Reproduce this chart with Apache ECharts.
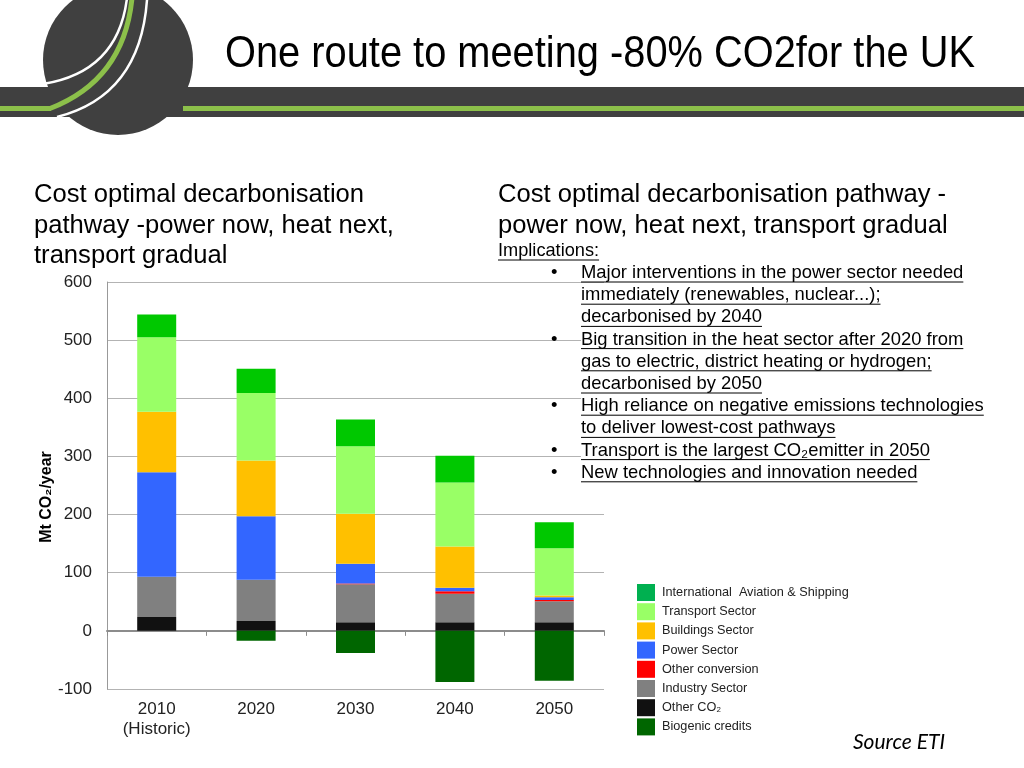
<!DOCTYPE html>
<html><head><meta charset="utf-8">
<script src="https://cdn.jsdelivr.net/npm/echarts@6/dist/echarts.min.js"></script>
<style>html,body{margin:0;padding:0;background:#fff}#c{width:1024px;height:768px}</style>
</head><body><div id="c"></div>
<script>
// ---- data ----
const categories = ['2010\n(Historic)', '2020', '2030', '2040', '2050'];
const otherCO2 = [24, 17, 15, 15, 15];
const industry = [69, 71, 65, 49, 36];
const otherConversion = [0, 0, 1.5, 4, 2];
const power = [180, 109, 34, 6, 5];
const buildings = [104, 96, 86, 71, 3];
const transport = [128, 116, 116, 110, 81];
const aviation = [39, 42, 46, 46, 45];
const biogenic = [0, -17, -38, -88, -86];
const yTicks = { min: -100, max: 600, interval: 100 };
const legendNames = ['International  Aviation & Shipping', 'Transport Sector', 'Buildings Sector', 'Power Sector', 'Other conversion', 'Industry Sector', 'Other CO\u2082', 'Biogenic credits'];

const bullets = [
  ['\u2022', 'Major interventions in the power sector needed'],
  ['', 'immediately (renewables, nuclear...);'],
  ['', 'decarbonised by 2040'],
  ['\u2022', 'Big transition in the heat sector after 2020 from'],
  ['', 'gas to electric, district heating or hydrogen;'],
  ['', 'decarbonised by 2050'],
  ['\u2022', 'High reliance on negative emissions technologies'],
  ['', 'to deliver lowest-cost pathways'],
  ['\u2022', 'Transport is the largest CO\u2082emitter in 2050'],
  ['\u2022', 'New technologies and innovation needed']
];

const chart = echarts.init(document.getElementById('c'), null, { renderer: 'canvas' });
const mctx = document.createElement('canvas').getContext('2d');
function tw(t, f) { mctx.font = f; return mctx.measureText(t).width; }

const FF = '"Liberation Sans", Arial, sans-serif';
const graphics = [];
// header band & logo
graphics.push({ type: 'rect', shape: { x: 0, y: 87, width: 1024, height: 30 }, style: { fill: '#404040' } });
graphics.push({ type: 'rect', shape: { x: 183, y: 106, width: 841, height: 5 }, style: { fill: '#8cc04a' } });
graphics.push({ type: 'circle', shape: { cx: 118, cy: 60, r: 75 }, style: { fill: '#404040' } });
graphics.push({ type: 'line', shape: { x1: 0, y1: 108.5, x2: 51, y2: 108.5 }, style: { stroke: '#8cc04a', lineWidth: 5 } });
graphics.push({ type: 'bezierCurve', shape: { x1: 50, y1: 108.5, cpx1: 124, cpy1: 80, x2: 132, y2: -2 }, style: { fill: null, stroke: '#8cc04a', lineWidth: 5 } });
graphics.push({ type: 'bezierCurve', shape: { x1: 43, y1: 84, cpx1: 118, cpy1: 72, x2: 127, y2: -2 }, style: { fill: null, stroke: '#fff', lineWidth: 2.5 } });
graphics.push({ type: 'bezierCurve', shape: { x1: 57, y1: 117, cpx1: 140, cpy1: 96, x2: 147, y2: 0 }, style: { fill: null, stroke: '#fff', lineWidth: 2.5 } });
// title (condensed to the reference width)
const titleText = 'One route to meeting -80% CO2for the UK';
const titleFont = '44px "Liberation Sans", Arial, sans-serif';
const titleScale = 750 / tw(titleText, titleFont);
graphics.push({ type: 'text', x: 225, y: 55, scaleX: titleScale, style: { text: titleText, font: titleFont, fill: '#000', textVerticalAlign: 'middle' } });
// left text
const bigF = '25.6px ' + FF;
['Cost optimal decarbonisation', 'pathway -power now, heat next,', 'transport gradual'].forEach((t, i) => {
  graphics.push({ type: 'text', x: 34, y: 195 + i * 30.5, style: { text: t, font: bigF, fill: '#000', textVerticalAlign: 'middle' } });
});
['Cost optimal decarbonisation pathway -', 'power now, heat next, transport gradual'].forEach((t, i) => {
  graphics.push({ type: 'text', x: 498, y: 195 + i * 30.5, style: { text: t, font: bigF, fill: '#000', textVerticalAlign: 'middle' } });
});
// implications
const smallF = '18.4px ' + FF;
function underlined(t, x, y, font) {
  graphics.push({ type: 'text', z: 10, x: x, y: y, style: { text: t, font: font, fill: '#000', textVerticalAlign: 'middle', backgroundColor: '#fff' } });
  const w = tw(t, font);
  graphics.push({ type: 'line', z: 11, shape: { x1: x, y1: y + 9, x2: x + w, y2: y + 9 }, style: { stroke: '#000', lineWidth: 1 } });
}
underlined('Implications:', 498, 251, '18.2px ' + FF);
bullets.forEach((b, i) => {
  const y = 273 + i * 22.2;
  if (b[0]) graphics.push({ type: 'text', z: 10, x: 551, y: y, style: { text: b[0], font: smallF, fill: '#000', textVerticalAlign: 'middle' } });
  underlined(b[1], 581, y, smallF);
});
// y axis name
graphics.push({ type: 'text', x: 47, y: 497, rotation: Math.PI / 2, style: { text: 'Mt CO\u2082/year', font: 'bold 16px ' + FF, fill: '#000', textAlign: 'center', textVerticalAlign: 'middle' } });
// source
graphics.push({ type: 'text', x: 853, y: 742, style: { text: 'Source ETI', font: 'italic 21px Lato, "Open Sans", sans-serif', fill: '#000', textVerticalAlign: 'middle' } });

const colors = {
  aviation: '#00c800', transport: '#99ff66', buildings: '#ffc000', power: '#3366ff',
  otherConv: '#ff0000', industry: '#808080', otherCO2: '#111111', biogenic: '#006600'
};
function bar(name, data, color) {
  return { name: name, type: 'bar', stack: 'total', data: data, barWidth: 39, itemStyle: { color: color }, emphasis: { disabled: true } };
}
const series = [
  bar(legendNames[6], otherCO2, colors.otherCO2),
  bar(legendNames[5], industry, colors.industry),
  bar(legendNames[4], otherConversion, colors.otherConv),
  bar(legendNames[3], power, colors.power),
  bar(legendNames[2], buildings, colors.buildings),
  bar(legendNames[1], transport, colors.transport),
  bar(legendNames[0], aviation, colors.aviation),
  bar(legendNames[7], biogenic, colors.biogenic)
];

chart.setOption({
  animation: false,
  grid: { left: 107, right: 420, top: 282, bottom: 79, containLabel: false },
  legend: {
    orient: 'vertical', left: 637, top: 584, padding: 0, itemGap: 2.2,
    itemWidth: 18, itemHeight: 17, icon: 'rect',
    textStyle: { fontFamily: FF, fontSize: 12.7, color: '#222', padding: [0, 0, 0, 2] },
    data: legendNames.map((n, i) => i === 0 ? { name: n, itemStyle: { color: '#00b050' } } : n)
  },
  xAxis: [
    { type: 'category', data: categories, gridIndex: 0,
      axisLine: { onZero: true, lineStyle: { color: '#8c8c8c', width: 2 } },
      axisTick: { show: true, length: 5, lineStyle: { color: '#8c8c8c', width: 1 } },
      axisLabel: { show: false }, splitLine: { show: false } },
    { type: 'category', data: categories, gridIndex: 0, position: 'bottom',
      axisLine: { show: false, onZero: false }, axisTick: { show: false },
      axisLabel: { show: true, margin: 10, fontFamily: FF, fontSize: 17, lineHeight: 20, color: '#222', interval: 0 } }
  ],
  yAxis: {
    type: 'value', min: yTicks.min, max: yTicks.max, interval: yTicks.interval,
    axisLine: { show: true, lineStyle: { color: '#999', width: 1 } },
    axisTick: { show: false },
    axisLabel: { margin: 15, fontFamily: FF, fontSize: 17, color: '#222' },
    splitLine: { show: true, lineStyle: { color: '#b3b3b3', width: 1 } }
  },
  series: series,
  graphic: graphics
});
</script></body></html>
